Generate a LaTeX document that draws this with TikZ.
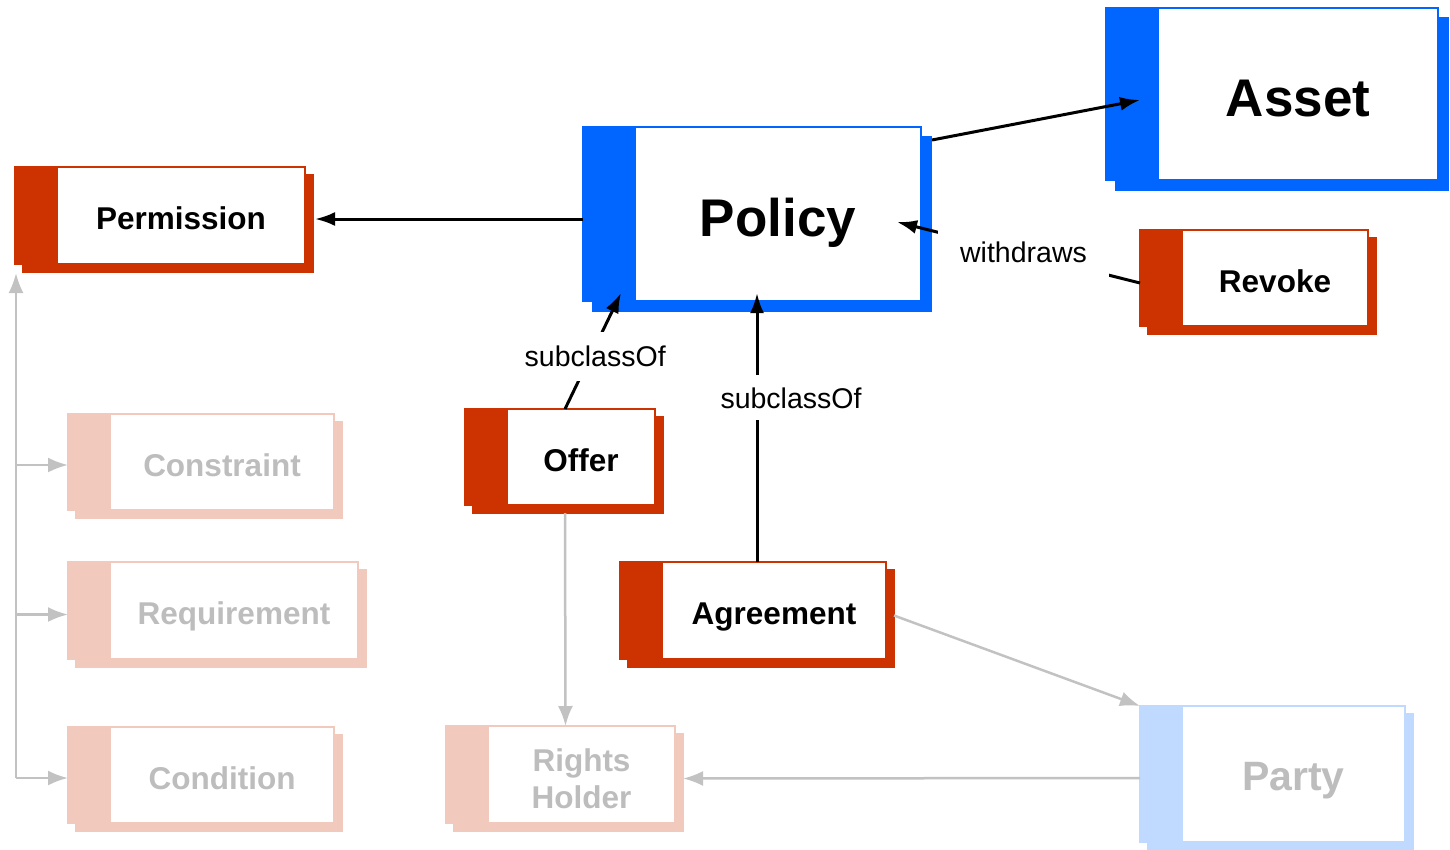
\documentclass[tikz,border=0pt]{standalone}
\usepackage{fontspec}
\setmainfont{Liberation Sans}
\usetikzlibrary{arrows.meta}
\definecolor{odrlred}{HTML}{CC3300}
\definecolor{odrlblue}{HTML}{0066FF}
\definecolor{palered}{HTML}{F2C9BD}
\definecolor{paleblue}{HTML}{C0D9FF}
\definecolor{fadetext}{HTML}{BDBDBD}
\definecolor{fadeline}{HTML}{C2C2C2}
\tikzset{kbox/.style n args={3}{rectangle,draw=#1,fill=white,line width=1.5pt,inner sep=0pt,outer sep=0pt,align=center,
    preaction={fill=#1,draw=#1,transform canvas={xshift=#3,yshift=-#3}},
    preaction={fill=#1,draw=#1,transform canvas={xshift=#3-#2,yshift=-#3}},
    preaction={fill=#1,draw=#1,transform canvas={xshift=-#2}}}}
\tikzset{rbox/.style={kbox={odrlred}{42pt}{8pt},text height=28.6pt,text depth=0pt,font=\bfseries\fontsize{31.5}{37}\selectfont}}
\tikzset{bbox/.style={kbox={odrlblue}{52pt}{10pt},text height=45pt,text depth=0pt,font=\bfseries\fontsize{53}{60}\selectfont}}
\tikzset{fbox/.style={kbox={palered}{42pt}{8pt},text=fadetext,text height=28.6pt,text depth=0pt,font=\bfseries\fontsize{31.5}{37}\selectfont}}
\tikzset{pbox/.style={kbox={paleblue}{42pt}{8pt},text=fadetext,text height=32.4pt,text depth=0pt,font=\bfseries\fontsize{41}{48}\selectfont}}
\tikzset{l/.style={fill=white,inner xsep=22pt,inner ysep=14pt,font=\fontsize{28.5}{34}\selectfont}}
\tikzset{a/.style={line width=3pt,->,>={Latex[length=20pt,width=14pt]}}}
\tikzset{g/.style={fadeline,line width=2.5pt,->,>={Latex[length=20pt,width=15pt]}}}

\begin{document}
\begin{tikzpicture}[x=1pt,y=-1pt]
      \useasboundingbox (0,0) rectangle (1450,849);
      \node[bbox,minimum width=286,minimum height=174] (Policy) at (778,214) {Policy};
      \node[bbox,minimum width=280,minimum height=172] (Asset) at (1298,94) {Asset};
      \node[rbox,minimum width=248,minimum height=97] (Permission) at (181,215.5) {Permission};
      \node[rbox,minimum width=186,minimum height=96] (Revoke) at (1275,278) {Revoke};
      \node[rbox,minimum width=148,minimum height=96] (Offer) at (581,457) {Offer};
      \node[rbox,minimum width=224,minimum height=97] (Agreement) at (774,610.5) {Agreement};
      \node[fbox,minimum width=224,minimum height=96] (Constraint) at (222,462) {Constraint};
      \node[fbox,minimum width=248,minimum height=97] (Requirement) at (234,610.5) {Requirement};
      \node[fbox,minimum width=224,minimum height=96] (Condition) at (222,775) {Condition};
      \node[fbox,text height=67pt,minimum width=187,minimum height=97] (Holder) at (581.5,774.5) {Rights\\Holder};
      \node[pbox,minimum width=223,minimum height=136] (Party) at (1293.5,774) {Party};
      \coordinate (trunk) at (16,778);
      \draw[a] ([xshift=-52pt,yshift=-5pt]Policy.west) -- ([xshift=10pt,yshift=-3.5pt]Permission.east);
      \draw[a] ([xshift=11pt,yshift=-13pt]Policy.north east) -- ([xshift=-18pt,yshift=-6pt]Asset.west);
      \draw[a] ([xshift=-42pt,yshift=-5pt]Revoke.west) -- node[l,midway,xshift=5pt] {withdraws} ([xshift=-24pt,yshift=-8pt]Policy.east);
      \draw[a] ([xshift=-16pt]Offer.north) -- node[l,pos=0.45,xshift=5pt] {subclassOf} ([xshift=-14pt,yshift=8pt]Policy.south west);
      \draw[a] ([xshift=-17pt]Agreement.north) -- node[l,pos=0.61,xshift=34pt,inner ysep=12pt] {subclassOf} ([xshift=-21pt,yshift=8pt]Policy.south);
      \draw[g] ([xshift=-16pt,yshift=-8pt]Offer.south) -- ([xshift=-16pt]Holder.north);
      \draw[g] ([xshift=8pt,yshift=-5pt]Agreement.east) -- ([xshift=-42pt]Party.north west);
      \draw[g] ([xshift=-42pt,yshift=-4pt]Party.west) -- ([xshift=8pt,yshift=-4pt]Holder.east);
      \draw[g] (trunk) -- ([xshift=-41pt,yshift=-9pt]Permission.south west);
      \draw[g] ([xshift=-94pt,yshift=-3pt]Constraint.west) -- ([xshift=-42pt,yshift=-3pt]Constraint.west);
      \draw[g] ([xshift=-94pt,yshift=-4pt]Requirement.west) -- ([xshift=-42pt,yshift=-4pt]Requirement.west);
      \draw[g] (trunk) -- ([xshift=-42pt,yshift=-3pt]Condition.west);
\end{tikzpicture}
\end{document}
